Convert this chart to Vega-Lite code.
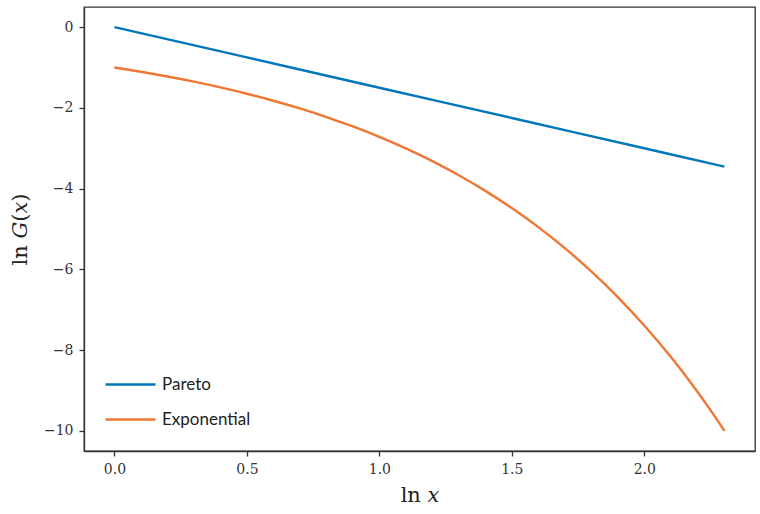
{
  "$schema": "https://vega.github.io/schema/vega-lite/v6.json",
  "autosize": {"type": "none"},
  "width": 671,
  "height": 444,
  "padding": {"left": 84, "top": 7, "right": 5, "bottom": 63},
  "background": "white",
  "config": {
    "view": {"stroke": "#333333", "strokeWidth": 1.3},
    "axis": {
      "grid": false,
      "domainColor": "#333333",
      "domainWidth": 1.3,
      "tickColor": "#333333",
      "tickWidth": 1.3,
      "tickSize": 5,
      "labelFont": "DejaVu Serif",
      "labelFontSize": 14,
      "labelColor": "#333333",
      "titleFont": "DejaVu Serif",
      "titleFontSize": 21,
      "titleFontWeight": "normal",
      "titleColor": "#222222"
    }
  },
  "data": {
    "values": [
      {"t": 0.0, "lnG": 0.0, "series": "Pareto"},
      {"t": 0.5, "lnG": -0.75, "series": "Pareto"},
      {"t": 1.0, "lnG": -1.5, "series": "Pareto"},
      {"t": 1.5, "lnG": -2.25, "series": "Pareto"},
      {"t": 2.0, "lnG": -3.0, "series": "Pareto"},
      {"t": 2.302585, "lnG": -3.453878, "series": "Pareto"},
      {"t": 0.0, "lnG": -1.0, "series": "Exponential"},
      {"t": 0.1, "lnG": -1.10517, "series": "Exponential"},
      {"t": 0.2, "lnG": -1.2214, "series": "Exponential"},
      {"t": 0.3, "lnG": -1.34986, "series": "Exponential"},
      {"t": 0.4, "lnG": -1.49182, "series": "Exponential"},
      {"t": 0.5, "lnG": -1.64872, "series": "Exponential"},
      {"t": 0.6, "lnG": -1.82212, "series": "Exponential"},
      {"t": 0.7, "lnG": -2.01375, "series": "Exponential"},
      {"t": 0.8, "lnG": -2.22554, "series": "Exponential"},
      {"t": 0.9, "lnG": -2.4596, "series": "Exponential"},
      {"t": 1.0, "lnG": -2.71828, "series": "Exponential"},
      {"t": 1.1, "lnG": -3.00417, "series": "Exponential"},
      {"t": 1.2, "lnG": -3.32012, "series": "Exponential"},
      {"t": 1.3, "lnG": -3.6693, "series": "Exponential"},
      {"t": 1.4, "lnG": -4.0552, "series": "Exponential"},
      {"t": 1.5, "lnG": -4.48169, "series": "Exponential"},
      {"t": 1.6, "lnG": -4.95303, "series": "Exponential"},
      {"t": 1.7, "lnG": -5.47395, "series": "Exponential"},
      {"t": 1.8, "lnG": -6.04965, "series": "Exponential"},
      {"t": 1.9, "lnG": -6.68589, "series": "Exponential"},
      {"t": 2.0, "lnG": -7.38906, "series": "Exponential"},
      {"t": 2.1, "lnG": -8.16617, "series": "Exponential"},
      {"t": 2.2, "lnG": -9.02501, "series": "Exponential"},
      {"t": 2.25, "lnG": -9.48774, "series": "Exponential"},
      {"t": 2.302585, "lnG": -10.0, "series": "Exponential"}
    ]
  },
  "mark": {"type": "line", "strokeWidth": 2.4, "clip": true, "interpolate": "monotone"},
  "encoding": {
    "x": {
      "field": "t", "type": "quantitative",
      "scale": {"domain": [-0.115, 2.418], "nice": false, "zero": false},
      "axis": {"values": [0, 0.5, 1, 1.5, 2], "format": ".1f", "title": "ln 𝑥", "labelPadding": 6, "titlePadding": 8}
    },
    "y": {
      "field": "lnG", "type": "quantitative",
      "scale": {"domain": [-10.5, 0.5], "nice": false, "zero": false},
      "axis": {"values": [0, -2, -4, -6, -8, -10], "format": "d", "title": "ln 𝐺(𝑥)", "labelPadding": 6, "titlePadding": 13}
    },
    "color": {
      "field": "series", "type": "nominal",
      "scale": {"domain": ["Pareto", "Exponential"], "range": ["#0077BB", "#EE7733"]},
      "legend": {
        "title": null,
        "orient": "none",
        "legendX": 20,
        "legendY": 351,
        "symbolType": "stroke",
        "symbolSize": 2500,
        "symbolStrokeWidth": 2.4,
        "labelFont": "Lato",
        "labelFontSize": 17,
        "labelColor": "#222222",
        "labelOffset": 5,
        "rowPadding": 0
      }
    }
  }
}
